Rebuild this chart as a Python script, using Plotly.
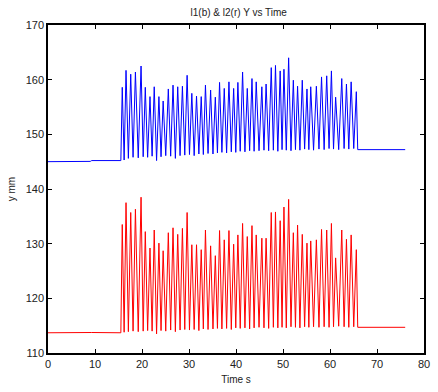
import plotly.graph_objects as go

# ---- data ----
peak_t = [15.8, 16.6, 17.6, 18.6, 19.8, 20.7, 21.7, 22.6, 23.6, 24.5, 25.6, 26.6, 27.6, 28.6, 29.6,
          30.6, 31.6, 32.6, 33.5, 34.6, 35.6,
          36.5, 37.5, 38.5, 39.5, 40.4, 41.4, 42.4, 43.4, 44.3, 45.5, 46.4, 47.5, 48.4, 49.4, 50.2,
          51.2, 52.2, 53.1, 54.1, 55.1, 55.9, 57.1, 58.2, 59.3, 60.3, 61.2, 62.5, 63.5, 64.5, 65.6]
trough_t = [16.2, 17.1, 18.1, 19.2, 20.25, 21.2, 22.15, 23.1, 24.05, 25.05, 26.1, 27.1, 28.1, 29.1,
            30.1, 31.1, 32.1, 33.05, 34.05, 35.1, 36.05, 37.0, 38.0, 39.0, 39.95, 40.9, 41.9, 42.9,
            43.85, 44.9, 45.95, 46.95, 47.95, 48.9, 49.8, 50.7, 51.7, 52.65, 53.6, 54.6, 55.5, 56.5,
            57.65, 58.75, 59.8, 60.75, 61.85, 63.0, 64.0, 65.05]

blue_peak = [158.6, 161.7, 161.0, 161.4, 162.5, 158.6, 156.9, 158.7, 156.9, 156.1, 158.3, 159.0, 158.7,
             158.8, 160.8, 157.5, 157.0, 156.9, 159.0, 158.1, 156.8,
             159.5, 158.4, 159.6, 158.4, 159.5, 161.4, 158.4, 160.2, 159.6, 158.7, 159.2, 162.2, 162.6,
             161.6, 161.9, 164.0, 159.9, 158.8, 159.9, 158.3, 158.7, 158.8, 160.5, 160.7, 161.6, 156.8,
             160.2, 159.2, 159.6, 157.8]
blue_trough = [145.3, 145.6, 145.8, 145.7, 145.9, 145.8, 146.0, 145.2, 145.9, 146.1, 146.0, 145.6, 146.1,
               146.2, 146.3, 146.1, 146.4, 146.3, 146.5, 146.4, 146.6, 146.7, 146.6, 146.8, 146.7,
               146.9, 146.8, 147.0, 146.9, 147.0, 147.1, 147.0, 147.1, 146.9, 147.2, 147.1, 147.0,
               147.2, 147.1, 147.3, 147.2, 147.1, 147.3, 147.2, 147.4, 147.3, 147.2, 147.4, 147.3, 147.4]
red_peak = [133.5, 137.5, 135.7, 136.3, 138.5, 132.2, 129.2, 132.5, 130.1, 128.7, 132.0, 132.9, 131.7,
            132.8, 135.7, 129.8, 129.8, 128.9, 132.5, 129.6, 127.8,
            132.4, 130.7, 132.4, 129.9, 131.6, 133.7, 131.3, 133.3, 131.6, 131.0, 131.0, 135.7, 135.8,
            134.2, 136.7, 138.1, 132.0, 133.4, 131.7, 130.1, 130.5, 130.7, 132.6, 132.5, 133.7, 127.4,
            132.5, 130.8, 131.6, 128.9]
red_trough = [113.8, 113.9, 114.0, 113.9, 114.0, 114.1, 114.0, 113.5, 114.1, 114.0, 114.2, 113.9, 114.2,
              114.3, 114.2, 114.3, 114.1, 114.4, 114.3, 114.4, 114.5, 114.4, 114.5, 114.3, 114.6,
              114.5, 114.6, 114.4, 114.6, 114.7, 114.6, 114.5, 114.7, 114.6, 114.7, 114.6, 114.8,
              114.7, 114.6, 114.8, 114.7, 114.8, 114.7, 114.8, 114.7, 114.8, 114.9, 114.8, 114.7, 114.8]

pre_t = [0.0, 5.0, 9.0, 9.3, 15.5]
blue_pre = [145.0, 145.0, 145.05, 145.2, 145.2]
red_pre = [113.7, 113.75, 113.7, 113.75, 113.7]
post_t = [65.9, 76.0]
blue_post = [147.2, 147.2]
red_post = [114.7, 114.7]


def build(pre_v, peaks, troughs, post_v):
    xs, ys = list(pre_t), list(pre_v)
    for i, (pt, pv) in enumerate(zip(peak_t, peaks)):
        xs.append(pt)
        ys.append(pv)
        if i < len(trough_t):
            xs.append(trough_t[i])
            ys.append(troughs[i])
    xs += post_t
    ys += post_v
    return xs, ys


bx, by = build(blue_pre, blue_peak, blue_trough, blue_post)
rx, ry = build(red_pre, red_peak, red_trough, red_post)

fig = go.Figure()
fig.add_trace(go.Scatter(x=bx, y=by, mode="lines", line=dict(color="#0000FF", width=1),
                         showlegend=False))
fig.add_trace(go.Scatter(x=rx, y=ry, mode="lines", line=dict(color="#FF0000", width=1),
                         showlegend=False))

font = dict(family="Liberation Sans, Arial, sans-serif", size=11, color="#222")
axis_common = dict(showgrid=False, zeroline=False, showline=True, linecolor="black", linewidth=1.5,
                   mirror="ticks", ticks="inside", ticklen=4, tickcolor="black", tickwidth=1,
                   tickfont=font)
fig.update_layout(
    width=438, height=392,
    margin=dict(l=48, r=8, t=25, b=35),
    paper_bgcolor="white", plot_bgcolor="white",
    title=dict(text="l1(b) & l2(r) Y vs Time", x=0.545, xanchor="center", y=0.968, yanchor="middle",
               font=dict(family="Liberation Sans, Arial, sans-serif", size=10, color="#222")),
    xaxis=dict(range=[0, 80], tickvals=[0, 10, 20, 30, 40, 50, 60, 70, 80],
               title=dict(text="Time s", font=dict(family="Liberation Sans, Arial, sans-serif", size=10, color="#222"),
                          standoff=7), **axis_common),
    yaxis=dict(range=[110, 170], tickvals=[110, 120, 130, 140, 150, 160, 170],
               title=dict(text="y mm", font=dict(family="Liberation Sans, Arial, sans-serif", size=10, color="#222"),
                          standoff=8), **axis_common),
)
fig.write_html("out.html")
